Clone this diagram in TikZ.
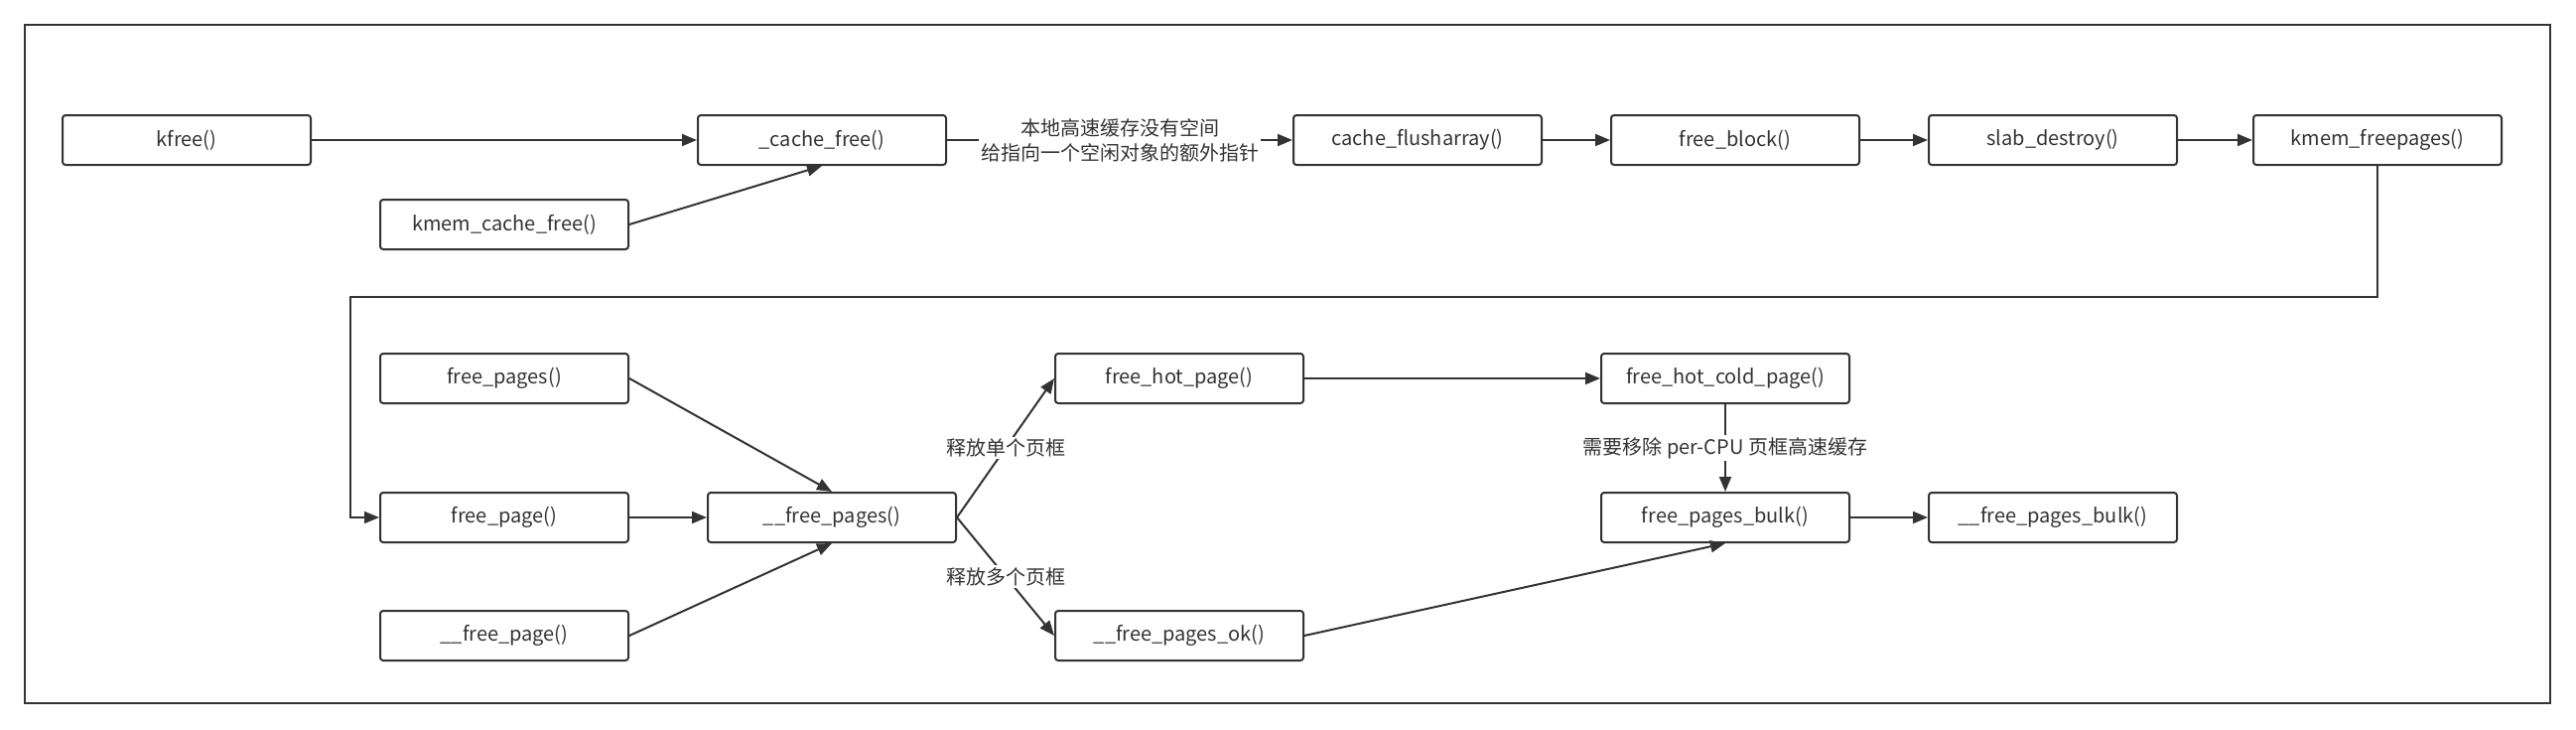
\documentclass[tikz,border=0pt]{standalone}
\usepackage{fontspec}
\setmainfont{Noto Sans CJK SC}
\usetikzlibrary{arrows.meta}
\definecolor{ink}{HTML}{333333}
\begin{document}
\begin{tikzpicture}[x=1pt,y=-1pt,
  fn/.style={draw=ink, line width=2pt, rounded corners=3pt, minimum width=250pt, minimum height=50pt, inner sep=0pt, text=ink, font=\fontsize{20}{25}\selectfont},
  conn/.style={draw=ink, line width=2pt, -{Triangle[length=15pt,width=12pt]}},
  lbl/.style={fill=white, text=ink, font=\fontsize{20}{25}\selectfont, inner sep=2pt, align=center}]
\useasboundingbox (0,0) rectangle (2595,734);
\draw[ink, line width=2pt] (25,25) rectangle (2569,708);
\node[fn] (kfree) at (188,141) {kfree()};
\node[fn] (cachefree) at (828,141) {\_cache\_free()};
\node[fn] (kmcf) at (508,226) {kmem\_cache\_free()};
\node[fn] (flush) at (1428,141) {cache\_flusharray()};
\node[fn] (fblock) at (1748,141) {free\_block()};
\node[fn] (slab) at (2068,141) {slab\_destroy()};
\node[fn] (kmfp) at (2395,141) {kmem\_freepages()};
\node[fn] (fpages) at (508,381) {free\_pages()};
\node[fn] (fpage) at (508,521) {free\_page()};
\node[fn] (ufpage) at (508,640) {\_\_free\_page()};
\node[fn] (ufpages) at (838,521) {\_\_free\_pages()};
\node[fn] (fhot) at (1188,381) {free\_hot\_page()};
\node[fn] (fok) at (1188,640) {\_\_free\_pages\_ok()};
\node[fn] (fhc) at (1738,381) {free\_hot\_cold\_page()};
\node[fn] (fbulk) at (1738,521) {free\_pages\_bulk()};
\node[fn] (ufbulk) at (2068,521) {\_\_free\_pages\_bulk()};
\coordinate (c1) at (2395,299);
\coordinate (c2) at (353,299);
\draw[conn] (kfree) -- (cachefree);
\draw[conn] (kmcf.east) -- (cachefree.south);
\draw[conn] (cachefree) -- node[lbl] {本地高速缓存没有空间\\给指向一个空闲对象的额外指针} (flush);
\draw[conn] (flush) -- (fblock);
\draw[conn] (fblock) -- (slab);
\draw[conn] (slab) -- (kmfp);
\draw[conn, line width=1.5pt] (kmfp.south) -- (c1) -- (c2) |- (fpage.west);
\draw[conn] (fpages.east) -- (ufpages.north);
\draw[conn] (fpage) -- (ufpages);
\draw[conn] (ufpage.east) -- (ufpages.south);
\draw[conn] (ufpages.east) -- node[lbl] {释放单个页框} (fhot.west);
\draw[conn] (ufpages.east) -- node[lbl] {释放多个页框} (fok.west);
\draw[conn] (fhot) -- (fhc);
\draw[conn] (fhc) -- node[lbl] {需要移除 per-CPU 页框高速缓存} (fbulk);
\draw[conn] (fok.east) -- (fbulk.south);
\draw[conn] (fbulk) -- (ufbulk);
\end{tikzpicture}
\end{document}
